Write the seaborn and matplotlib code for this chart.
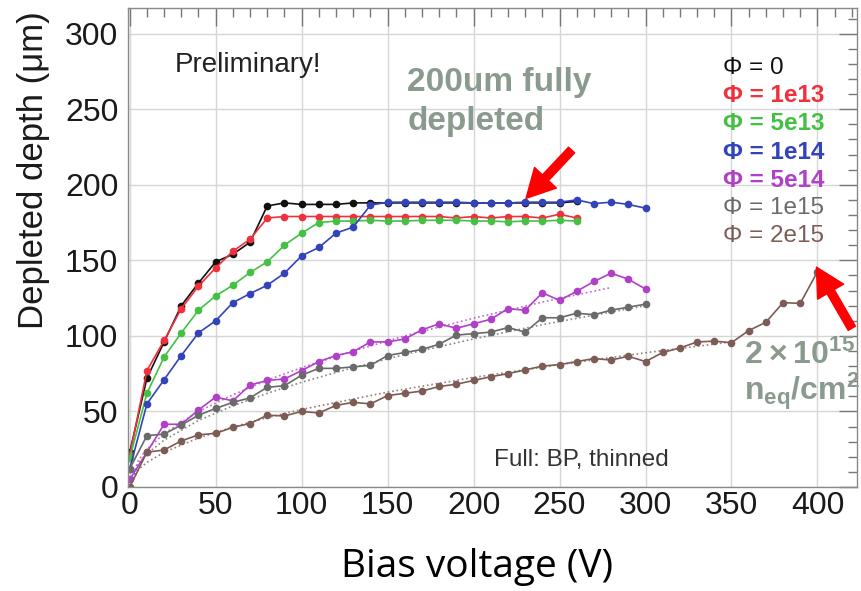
import numpy as np
import pandas as pd
import matplotlib
matplotlib.use("Agg")
import matplotlib.pyplot as plt
import matplotlib.ticker as mticker
import seaborn as sns

# ── Data ────────────────────────────────────────────────────
V_260 = list(range(0, 261, 10))
V_300 = list(range(0, 301, 10))
V_400 = list(range(0, 401, 10))

phi_0 = [23, 72, 96, 120, 135, 149, 154, 162, 186, 188, 187, 187, 187, 188,
         188, 188, 188, 188, 188, 188, 188, 188, 188, 188, 188, 188, 189]
phi_1e13 = [21, 77, 97, 118, 133, 145, 156, 164, 178, 179, 179, 179, 179, 179,
            179, 179, 179, 179, 179, 178, 179, 178, 179, 179, 178, 180.5, 178]
phi_5e13 = [19, 62, 86, 102, 117, 126.5, 133.5, 142, 149, 160, 168, 175, 176,
            176, 176.5, 176, 176, 176.5, 176.5, 176.5, 176, 176, 175.5, 176,
            176, 176.5, 176]
phi_1e14 = [12, 55, 71, 87, 102, 110, 122, 128, 133.5, 141.5, 153, 158.5, 168,
            172, 186.5, 188.5, 188.5, 188.5, 188.5, 188.5, 188, 188, 188, 188.5,
            188.5, 188.5, 190, 187.5, 188.5, 187, 184.5]
phi_5e14 = [5, 23, 41.5, 41.5, 51, 59.5, 57, 67.5, 70.5, 71.5, 77, 83, 87, 89.5,
            96, 96, 98, 104, 108, 105, 108, 111, 118, 117, 128.5, 123.5, 129.5,
            136, 141.5, 137.5, 131]
phi_1e15 = [12, 34, 35, 41, 47.5, 52, 56, 59, 66, 67, 74, 78.5, 78.5, 79.5, 80.5,
            87, 89, 91, 94.5, 100.5, 101.5, 102.5, 105.5, 102.5, 112, 112, 115,
            114, 117, 119, 121]
phi_2e15 = [0, 23, 24.5, 30.5, 34.5, 35.5, 39.5, 42, 47.5, 47, 50, 49, 54, 56, 55,
            60.5, 62, 63.5, 66.5, 68, 70.5, 73, 75, 77.5, 80, 81, 83, 85, 84,
            86.5, 83, 89, 92, 96, 96.5, 95.5, 103.5, 109, 122, 121.5, 142.5]

# dotted fit curves
fit_v_5e14 = [0, 5, 10, 20, 40, 60, 80, 100, 130, 160, 200, 240, 280]
fit_d_5e14 = [0, 17.7, 25, 35.3, 50, 61, 70.7, 79, 90, 100, 111.7, 122.4, 132]
fit_v_1e15 = [0, 5, 10, 20, 40, 60, 80, 100, 130, 160, 200, 240, 300]
fit_d_1e15 = [0, 15.5, 22, 31, 44, 53.7, 62, 69.3, 79, 87.7, 98, 107.4, 120]
fit_v_2e15 = [0, 5, 10, 20, 40, 60, 80, 100, 150, 200, 250, 300, 350]
fit_d_2e15 = [0, 11.5, 16.2, 23, 32.4, 39.7, 45.9, 51.3, 62.8, 72.5, 81, 88.8, 96]

labels = ["Φ = 0", "Φ = 1e13", "Φ = 5e13", "Φ = 1e14",
          "Φ = 5e14", "Φ = 1e15", "Φ = 2e15"]
COLORS = ["#111111", "#f0303c", "#44c044", "#3344bb",
          "#b040c8", "#6a6a6a", "#7d5c55"]
NOTE = "#8b9a8e"

series = [(V_260, phi_0), (V_260, phi_1e13), (V_260, phi_5e13), (V_300, phi_1e14),
          (V_300, phi_5e14), (V_300, phi_1e15), (V_400, phi_2e15)]
df = pd.concat([pd.DataFrame({"bias": v, "depth": d, "fluence": lab})
                for (v, d), lab in zip(series, labels)], ignore_index=True)

fits = pd.concat([
    pd.DataFrame({"bias": fit_v_5e14, "depth": fit_d_5e14, "fluence": labels[4]}),
    pd.DataFrame({"bias": fit_v_1e15, "depth": fit_d_1e15, "fluence": labels[5]}),
    pd.DataFrame({"bias": fit_v_2e15, "depth": fit_d_2e15, "fluence": labels[6]}),
], ignore_index=True)

palette = dict(zip(labels, COLORS))

# ── Style ────────────────────────────────────────────────────
sns.set_style("white")
plt.rcParams["font.family"] = ["Liberation Sans", "DejaVu Sans"]
plt.rcParams["mathtext.fontset"] = "custom"
plt.rcParams["mathtext.bf"] = "Liberation Sans:bold"
plt.rcParams["mathtext.rm"] = "Liberation Sans"

fig = plt.figure(figsize=(8.62, 5.91), dpi=100)
ax = fig.add_axes([0.1485, 0.176, 0.8457, 0.8105])

sns.lineplot(data=fits, x="bias", y="depth", hue="fluence", palette=palette,
             linestyle=":", linewidth=1.2, alpha=0.8, legend=False,
             estimator=None, sort=False, ax=ax)
sns.lineplot(data=df, x="bias", y="depth", hue="fluence", hue_order=labels,
             palette=palette, marker="o", markersize=5.5, markeredgewidth=0,
             linewidth=1.2, estimator=None, sort=False, ax=ax)

ax.set_xlim(-1, 423)
ax.set_ylim(0, 317)
ax.set_xticks(range(0, 401, 50))
ax.set_yticks(range(0, 301, 50))
ax.xaxis.set_minor_locator(mticker.MultipleLocator(10))
ax.yaxis.set_minor_locator(mticker.MultipleLocator(10))
ax.tick_params(which="both", direction="in", top=True, right=True,
               color="#777777", width=1, labelsize=23, labelcolor="#1a1a1a")
ax.tick_params(which="major", length=13)
ax.tick_params(which="minor", length=6.5)
ax.tick_params(axis="x", pad=3)
ax.tick_params(axis="y", pad=7)
ax.grid(which="major", color="#d6d6d6", linewidth=1)
for sp in ax.spines.values():
    sp.set_color("#8a8a8a")
    sp.set_linewidth(1)

ax.set_ylabel("Depleted depth (μm)", fontsize=25, color="#1a1a1a")
ax.yaxis.set_label_coords(-0.107, 0.662)
ax.set_xlabel("Bias voltage (V)", fontsize=28, family="Open Sans", color="black")
ax.xaxis.set_label_coords(0.479, -0.128)

# colored-text legend
handles, labs = ax.get_legend_handles_labels()
leg = ax.legend(handles, labs, loc="upper left", bbox_to_anchor=(0.800, 0.924),
                frameon=False, handlelength=0, handletextpad=0, borderpad=0,
                labelspacing=0.22, fontsize=17.5, labelcolor="linecolor")
for h in leg.legend_handles:
    h.set_visible(False)
for t in leg.get_texts():
    if t.get_text() in ("Φ = 1e13", "Φ = 5e13", "Φ = 1e14", "Φ = 5e14"):
        t.set_fontweight("bold")

# text notes
ax.text(26, 274.5, "Preliminary!", fontsize=20, color="#222222", va="baseline")
ax.text(212, 14, "Full: BP, thinned", fontsize=17.5, color="#333333", va="baseline")
ax.text(161.5, 262, "200um fully", fontsize=24, fontweight="bold", color=NOTE,
        va="baseline")
ax.text(161.5, 236, "depleted", fontsize=24, fontweight="bold", color=NOTE,
        va="baseline")
ax.text(357, 81.5, r"$\mathbf{2\times10^{15}}$", fontsize=23, color=NOTE,
        va="baseline", clip_on=False)
ax.text(357, 57.5, r"$\mathbf{n_{eq}/cm^{2}}$", fontsize=23, color=NOTE,
        va="baseline", clip_on=False)

arrow = dict(arrowstyle="simple,head_length=1.7,head_width=1.8,tail_width=0.5",
             color="#ff0000", mutation_scale=12, shrinkA=0, shrinkB=0)
ax.annotate("", xy=(230.5, 191), xytext=(257, 223), arrowprops=arrow,
            annotation_clip=False)
ax.annotate("", xy=(399.4, 145.5), xytext=(420, 105), arrowprops=arrow,
            annotation_clip=False)

fig.savefig("out.png", dpi=100)
